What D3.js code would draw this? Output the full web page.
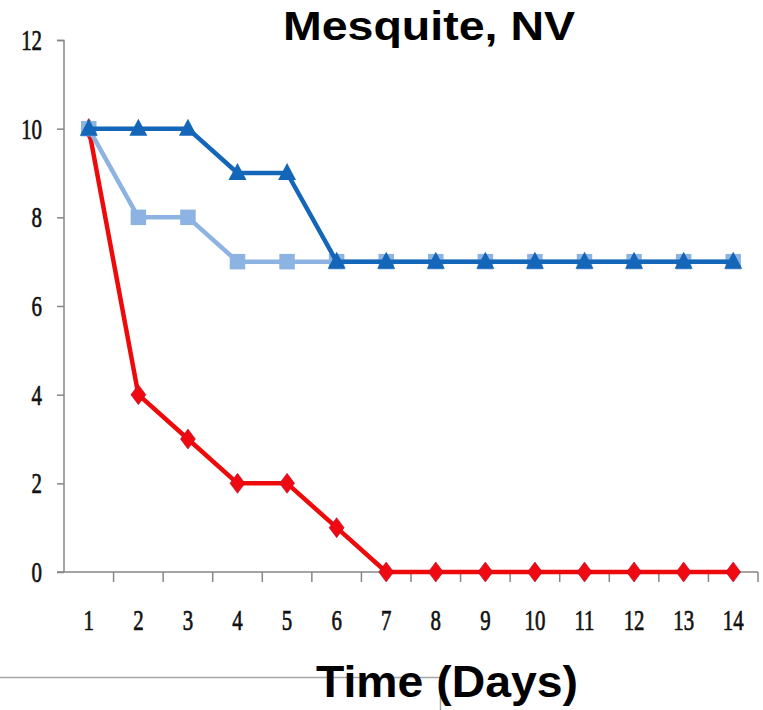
<!DOCTYPE html>
<html>
<head>
<meta charset="utf-8">
<script src="https://cdn.jsdelivr.net/npm/d3@7"></script>
<style>
  html, body { margin: 0; padding: 0; background: #fff; }
  svg { display: block; }
</style>
</head>
<body>
<svg id="chart" width="763" height="710"></svg>
<script>
// Days on the x axis
const days = [1, 2, 3, 4, 5, 6, 7, 8, 9, 10, 11, 12, 13, 14];
// Three series of counts per day
const seriesTriangle = [10, 10, 10, 9, 9, 7, 7, 7, 7, 7, 7, 7, 7, 7];
const seriesSquare   = [10, 8, 8, 7, 7, 7, 7, 7, 7, 7, 7, 7, 7, 7];
const seriesDiamond  = [10, 4, 3, 2, 2, 1, 0, 0, 0, 0, 0, 0, 0, 0];
const yTicks = [0, 2, 4, 6, 8, 10, 12];
const chartTitle = "Mesquite, NV";
const xTitle = "Time (Days)";

(function () {
const svg = d3.select("#chart");
const pLeft = 64, pRight = 758, pTop = 40, pBottom = 572;

const x = d3.scaleBand().domain(days).range([pLeft, pRight]).padding(0);
const y = d3.scaleLinear().domain([0, 12]).range([pBottom, pTop]);
const cx = d => x(d) + x.bandwidth() / 2;

const tickFont = "Liberation Serif, serif";
const tickSize = 29, squeeze = 0.72;

// frame line near the bottom
svg.append("path")
  .attr("d", "M0,677.5H440.5V710")
  .attr("fill", "none").attr("stroke", "#a6a6a6").attr("stroke-width", 1.5);

// y axis
const yAxis = svg.append("g").attr("transform", `translate(${pLeft},0)`)
  .call(d3.axisLeft(y).tickValues(yTicks).tickSize(7).tickFormat(""));
yAxis.select(".domain").attr("stroke", "#868686").attr("stroke-width", 1.5)
  .attr("d", `M-7,${pTop}.5H0V${pBottom}`);
yAxis.selectAll(".tick line").attr("stroke", "#868686").attr("stroke-width", 1.5);
svg.append("g").selectAll("text").data(yTicks).join("text")
  .attr("transform", d => `translate(42,${y(d)}) scale(${squeeze},1)`)
  .attr("text-anchor", "end").attr("dy", "0.34em")
  .attr("font-family", tickFont).attr("font-size", tickSize)
  .attr("fill", "#111").attr("stroke", "#111").attr("stroke-width", 0.7)
  .text(d => d);

// x axis with ticks between categories
const xAxis = svg.append("g").attr("transform", `translate(0,${pBottom})`);
xAxis.append("line").attr("x1", pLeft - 7).attr("x2", pRight)
  .attr("stroke", "#868686").attr("stroke-width", 1.5);
const bounds = days.map(d => x(d)).concat([pRight]);
xAxis.selectAll("line.tk").data(bounds.slice(1)).join("line").attr("class", "tk")
  .attr("x1", d => d).attr("x2", d => d).attr("y1", 0).attr("y2", 10)
  .attr("stroke", "#868686").attr("stroke-width", 1.5);
xAxis.selectAll("text").data(days).join("text")
  .attr("transform", d => `translate(${cx(d)},58) scale(${squeeze},1)`)
  .attr("text-anchor", "middle")
  .attr("font-family", tickFont).attr("font-size", tickSize)
  .attr("fill", "#111").attr("stroke", "#111").attr("stroke-width", 0.7)
  .text(d => d);

// titles
svg.append("text").attr("x", 283).attr("y", 40)
  .attr("textLength", 292).attr("lengthAdjust", "spacingAndGlyphs")
  .attr("font-family", "Liberation Sans, Arial, sans-serif").attr("font-weight", "bold")
  .attr("font-size", 40).attr("fill", "#000").text(chartTitle);
svg.append("text").attr("x", 316).attr("y", 697)
  .attr("textLength", 262).attr("lengthAdjust", "spacingAndGlyphs")
  .attr("font-family", "Liberation Sans, Arial, sans-serif").attr("font-weight", "bold")
  .attr("font-size", 45).attr("fill", "#000").text(xTitle);

const line = d3.line().x((v, i) => cx(days[i])).y(v => y(v));

// diamond series
svg.append("path").datum(seriesDiamond)
  .attr("d", line).attr("fill", "none")
  .attr("stroke", "#ee0a0a").attr("stroke-width", 4.5).attr("stroke-linejoin", "round");
svg.append("g").selectAll("path").data(seriesDiamond).join("path")
  .attr("d", "M0,-10L7.5,0L0,10L-7.5,0Z")
  .attr("transform", (v, i) => `translate(${cx(days[i])},${y(v)})`)
  .attr("fill", "#ee0a10").attr("stroke", "#b0103a").attr("stroke-width", 0.6);

// square series
svg.append("path").datum(seriesSquare)
  .attr("d", line).attr("fill", "none")
  .attr("stroke", "#8db3e2").attr("stroke-width", 4.5).attr("stroke-linejoin", "round");
svg.append("g").selectAll("path").data(seriesSquare).join("path")
  .attr("d", d3.symbol().type(d3.symbolSquare).size(240))
  .attr("transform", (v, i) => `translate(${cx(days[i])},${y(v)})`)
  .attr("fill", "#8db3e2");

// triangle series
svg.append("path").datum(seriesTriangle)
  .attr("d", line).attr("fill", "none")
  .attr("stroke", "#1467b8").attr("stroke-width", 4.5).attr("stroke-linejoin", "round");
svg.append("g").selectAll("path").data(seriesTriangle).join("path")
  .attr("d", "M0,-10L9,7L-9,7Z")
  .attr("transform", (v, i) => `translate(${cx(days[i])},${y(v)})`)
  .attr("fill", "#1467b8");
})();
</script>
</body>
</html>
